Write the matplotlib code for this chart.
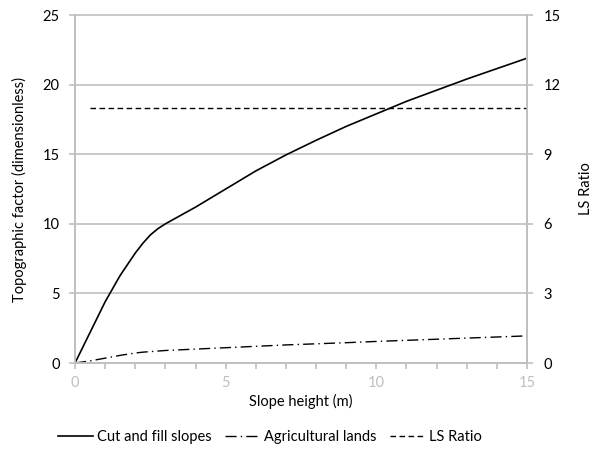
import matplotlib.pyplot as plt
import numpy as np

plt.rcParams['font.family'] = ['Lato', 'DejaVu Sans']

# slope height (m)
height = [0, 0.5, 1, 1.5, 2, 2.25, 2.5, 2.75, 3, 3.5, 4, 5, 6, 7, 8, 9, 10, 11, 12, 13, 14, 15]
cut_fill = [0, 2.2, 4.4, 6.3, 7.9, 8.6, 9.2, 9.65, 10.0, 10.6, 11.2, 12.5, 13.8, 14.95, 16.0,
            17.0, 17.9, 18.8, 19.6, 20.4, 21.15, 21.9]
agricultural = [0, 0.15, 0.35, 0.55, 0.72, 0.78, 0.82, 0.86, 0.9, 0.95, 1.0, 1.1, 1.2, 1.3, 1.38,
                1.46, 1.55, 1.63, 1.71, 1.79, 1.87, 1.95]
ls_x = [0.5, 15]
ls_ratio = [11, 11]

fig = plt.figure(figsize=(5.93, 4.49), dpi=100)
ax = fig.add_axes([0.1265, 0.1915, 0.7622, 0.775])
ax2 = ax.twinx()

grid_c = '#bfbfbf'
for v in range(5, 30, 5):
    ax.axhline(v, color=grid_c, lw=1.2, zorder=0, clip_on=False)

l1, = ax.plot(height, cut_fill, color='black', lw=1.2, label='Cut and fill slopes')
l2, = ax.plot(height, agricultural, color='black', lw=1.0,
              dashes=(8, 3, 1, 3), label='Agricultural lands')
l3, = ax2.plot(ls_x, ls_ratio, color='black', lw=1.0, dashes=(4, 2.5), label='LS Ratio')

ax.set_xlim(0, 15)
ax.set_ylim(0, 25)
ax2.set_ylim(0, 15)
ax.set_xticks([0, 5, 10, 15])
ax.set_xticks(np.arange(0, 16, 1), minor=True)
ax.set_yticks(range(0, 30, 5))
ax2.set_yticks(range(0, 18, 3))

for a in (ax, ax2):
    for s in a.spines.values():
        s.set_color(grid_c)
        s.set_linewidth(1.2)
    a.spines['top'].set_visible(False)
    a.tick_params(colors=grid_c, labelcolor='black', labelsize=10.5, length=4, width=1.2)
ax.tick_params(axis='x', which='both', colors=grid_c, length=4, width=1.2, pad=5.5)
ax.tick_params(axis='y', pad=7)
ax2.tick_params(axis='y', pad=8)

ax.set_xlabel('Slope height (m)', fontsize=10.5, labelpad=3)
ax.set_ylabel('Topographic factor (dimensionless)', fontsize=10.5, labelpad=11)
ax2.set_ylabel('LS Ratio', fontsize=10.5, labelpad=13)

fig.legend(handles=[l1, l2, l3], loc='center', bbox_to_anchor=(0.455, 0.027),
           ncol=3, frameon=False, fontsize=10.5, handlelength=2.4,
           handletextpad=0.3, columnspacing=0.9)

fig.savefig('out.png', dpi=100)
